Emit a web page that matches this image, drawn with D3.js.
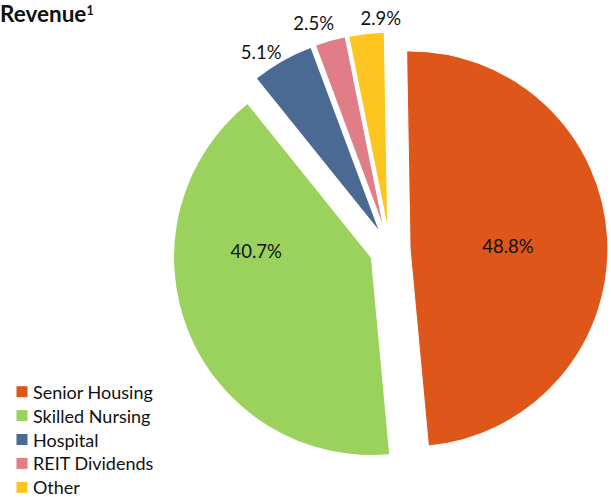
<!DOCTYPE html>
<html><head><meta charset="utf-8">
<script src="https://cdn.jsdelivr.net/npm/d3@7"></script>
<style>body{margin:0;background:#fff}svg{display:block;font-family:Lato,"Liberation Sans",sans-serif}</style>
</head><body>
<svg id="c" width="611" height="497"></svg>
<script>
const categories = ["Senior Housing","Skilled Nursing","Hospital","REIT Dividends","Other"];
const values = [48.8, 40.7, 5.1, 2.5, 2.9];
const labels = ["48.8%","40.7%","5.1%","2.5%","2.9%"];
const colors = ["#DF561B","#9BD25E","#4A6A94","#E17D86","#FEC420"];

const svg = d3.select("#c");
const cx = 390, cy = 250, r = 198, explode = 20;
const rot = -1 * Math.PI / 180;

const title = svg.append("text").attr("x",0).attr("y",22).attr("font-size",22.5).attr("font-weight","bold")
  .attr("fill","#111").text("Revenue");
title.append("tspan").attr("font-size",12.5).attr("dy",-7).text("1");

const pie = d3.pie().sort(null).startAngle(rot).endAngle(2*Math.PI+rot).value(d=>d)(values);
const arc = d3.arc().innerRadius(0).outerRadius(r);
const g = svg.append("g").attr("transform",`translate(${cx},${cy})`);

// label placement: [radius, angle tweak (deg)]
const lp = [[98,1.3],[115.5,25.1],[216,-3.8],[219.4,-2.9],[212,4.3]];

pie.forEach((p,i)=>{
  const mid = (p.startAngle+p.endAngle)/2;
  const ox = Math.sin(mid)*explode, oy = -Math.cos(mid)*explode;
  const sg = g.append("g").attr("transform",`translate(${ox},${oy})`);
  sg.append("path").attr("d",arc(p)).attr("fill",colors[i]).attr("stroke","#fff").attr("stroke-width",1.2);
  const a = mid + lp[i][1]*Math.PI/180;
  sg.append("text").attr("x",Math.sin(a)*lp[i][0]).attr("y",-Math.cos(a)*lp[i][0])
    .attr("text-anchor","middle").attr("dominant-baseline","central")
    .attr("font-size",18.5).attr("fill","#111").text(labels[i]);
});

const lg = svg.append("g");
categories.forEach((c,i)=>{
  const y = 391.7 + i*23.9;
  lg.append("rect").attr("x",16.5).attr("y",y-5.5).attr("width",11).attr("height",11).attr("fill",colors[i]);
  lg.append("text").attr("x",33).attr("y",y).attr("dominant-baseline","central")
    .attr("font-size",18).attr("fill","#111").text(c);
});
</script>
</body></html>
